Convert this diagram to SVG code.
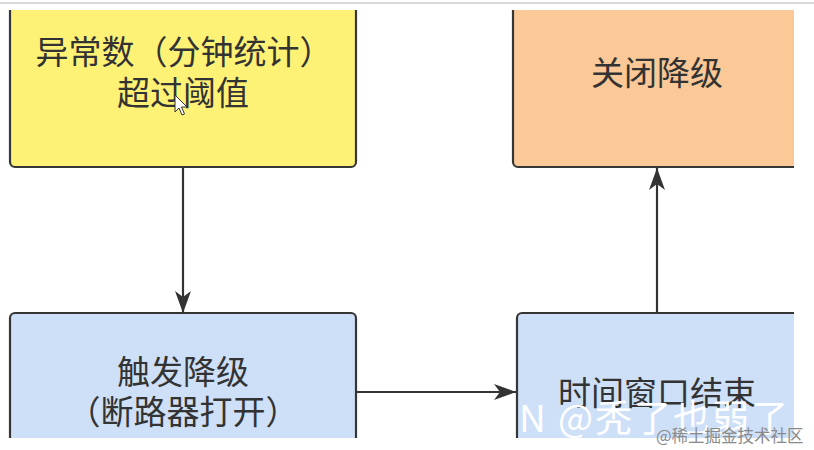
<svg xmlns="http://www.w3.org/2000/svg" width="814" height="450" viewBox="0 0 814 450">
  <style>
    .box { stroke: #363636; stroke-width: 2.2; }
    .yellow { fill: #fdf176; }
    .orange { fill: #fac997; }
    .blue { fill: #cde0f8; }
    .lbl { font-family: "Noto Sans CJK SC", "Noto Sans", sans-serif; font-size: 33px; fill: #333333; text-anchor: middle; }
    .edge { stroke: #333333; stroke-width: 2.2; fill: none; }
    .wm { font-family: "Noto Sans CJK SC", "Noto Sans", sans-serif; font-size: 37px; fill: #ffffff; letter-spacing: 2px; }
    .wm2 { font-family: "Noto Sans CJK SC", sans-serif; font-size: 16.5px; fill: #8a8a8a; }
  </style>
  <defs>
    <clipPath id="shot">
      <rect x="0" y="10" width="794" height="428"/>
    </clipPath>
    <marker id="arrow" markerUnits="userSpaceOnUse" markerWidth="24" markerHeight="18" refX="22" refY="8" orient="auto">
      <path d="M0,0 L22,8 L0,16 L6,8 Z" fill="#333333"/>
    </marker>
  </defs>
  <rect x="0" y="0" width="814" height="450" fill="#ffffff"/>
  <line x1="0" y1="3" x2="814" y2="3" stroke="#cccccc" stroke-width="1.5"/>
  <g clip-path="url(#shot)">
    <g id="node-exceed">
      <rect class="box yellow" x="10" y="-10" width="346" height="177" rx="5"/>
      <text class="lbl" x="184" y="64">异常数（分钟统计）</text>
      <text class="lbl" x="183" y="105">超过阈值</text>
    </g>
    <g id="node-close">
      <rect class="box orange" x="513" y="-10" width="320" height="177" rx="5"/>
      <text class="lbl" x="657" y="85">关闭降级</text>
    </g>
    <g id="node-trigger">
      <rect class="box blue" x="10" y="313" width="346" height="160" rx="5"/>
      <text class="lbl" x="183" y="384">触发降级</text>
      <text class="lbl" x="183" y="424">（断路器打开）</text>
    </g>
    <g id="node-window">
      <rect class="box blue" x="517" y="313" width="320" height="160" rx="5"/>
      <text class="lbl" x="657" y="405">时间窗口结束</text>
    </g>
    <g id="connectors">
      <line class="edge" x1="183" y1="168" x2="183" y2="313" marker-end="url(#arrow)"/>
      <line class="edge" x1="357" y1="392" x2="516" y2="392" marker-end="url(#arrow)"/>
      <line class="edge" x1="657" y1="313" x2="657" y2="168" marker-end="url(#arrow)"/>
    </g>
  </g>
  <path d="M175,95 L175,112 L179,108 L182,115 L184.5,114 L181.5,107 L187,107 Z" fill="#ffffff" stroke="#333333" stroke-width="1"/>
  <text class="wm" x="518" y="432" text-anchor="end">CSD</text>
  <text class="wm" x="519" y="432">N @秃了也弱了</text>
  <text class="wm2" x="656" y="442">@稀土掘金技术社区</text>
</svg>
